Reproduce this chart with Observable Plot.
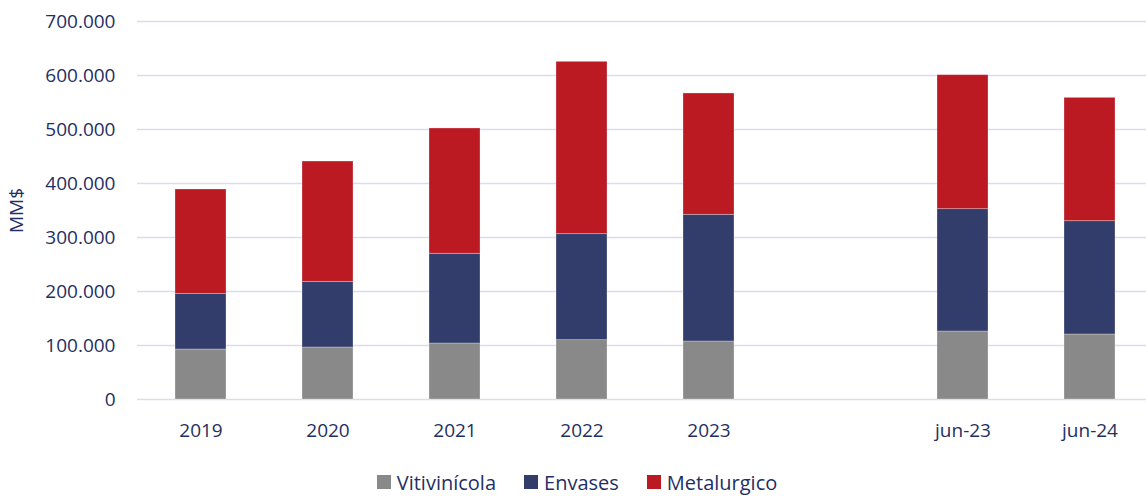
<!DOCTYPE html>
<html>
<head>
<meta charset="utf-8">
<script src="https://cdn.jsdelivr.net/npm/d3@7"></script>
<script src="https://cdn.jsdelivr.net/npm/@observablehq/plot@0.6"></script>
<style>
  html, body { margin: 0; padding: 0; background: #fff; }
  body { width: 1146px; height: 496px; overflow: hidden; font-family: "Open Sans", "Noto Sans", sans-serif; }
  #legend { display: flex; justify-content: center; align-items: center; gap: 28px; height: 30px; margin-top: 12px; font-size: 20px; color: #1f2f63; padding-left: 8px; }
  #legend span.item { display: flex; align-items: center; gap: 6px; }
  #legend span.sw { width: 14px; height: 14px; display: inline-block; }
</style>
</head>
<body>
<div id="chart"></div>
<div id="legend"></div>
<script>
const categories = ["2019", "2020", "2021", "2022", "2023", "jun-23", "jun-24"];
const xSlots = ["2019", "2020", "2021", "2022", "2023", " ", "jun-23", "jun-24"];
const seriesNames = ["Vitivinícola", "Envases", "Metalurgico"];
const seriesColors = ["#898989", "#323d6b", "#bb1a23"];
const vitivinicola = [92600, 96300, 103700, 109900, 107400, 125900, 120400];
const envases = [103100, 121600, 166100, 196300, 234600, 226600, 209800];
const metalurgico = [193200, 222800, 232100, 319100, 224700, 248100, 228400];
const yTicks = [0, 100000, 200000, 300000, 400000, 500000, 600000, 700000];

const seriesValues = [vitivinicola, envases, metalurgico];
const rows = [];
seriesNames.forEach((s, si) => {
  categories.forEach((c, ci) => rows.push({cat: c, series: s, value: seriesValues[si][ci]}));
});

const fmt = d3.formatLocale({decimal: ",", thousands: ".", grouping: [3], currency: ["$", ""]}).format(",");
const ink = "#1f2f63";

const chart = Plot.plot({
  width: 1146,
  height: 455,
  marginLeft: 137,
  marginRight: 0,
  marginTop: 21,
  marginBottom: 56,
  style: {fontFamily: "'Open Sans', 'Noto Sans', sans-serif", fontSize: "19px", color: ink, background: "#fff"},
  x: {domain: xSlots, range: [137, 1153], paddingInner: 0.6, paddingOuter: 0.3, label: null},
  y: {domain: [0, 700000], ticks: yTicks, label: null},
  color: {domain: seriesNames, range: seriesColors},
  marks: [
    Plot.gridY(yTicks, {stroke: "#d9dcee", strokeOpacity: 1, strokeWidth: 1.5}),
    Plot.barY(rows, {x: "cat", y: "value", fill: "series", stroke: "#ffffff", strokeOpacity: 0.35, strokeWidth: 0.8}),
    Plot.axisX({tickSize: 0, tickPadding: 24, fill: ink, fontSize: 19, label: null, tickFormat: d => d}),
    Plot.axisY(yTicks, {tickSize: 0, tickPadding: 22, fill: ink, fontSize: 19, tickFormat: fmt, label: "MM$", labelAnchor: "center", labelOffset: 128, labelArrow: "none"})
  ]
});
document.getElementById("chart").appendChild(chart);

const legend = document.getElementById("legend");
seriesNames.forEach((s, i) => {
  const item = document.createElement("span");
  item.className = "item";
  const sw = document.createElement("span");
  sw.className = "sw";
  sw.style.background = seriesColors[i];
  item.appendChild(sw);
  item.appendChild(document.createTextNode(s));
  legend.appendChild(item);
});
</script>
</body>
</html>
